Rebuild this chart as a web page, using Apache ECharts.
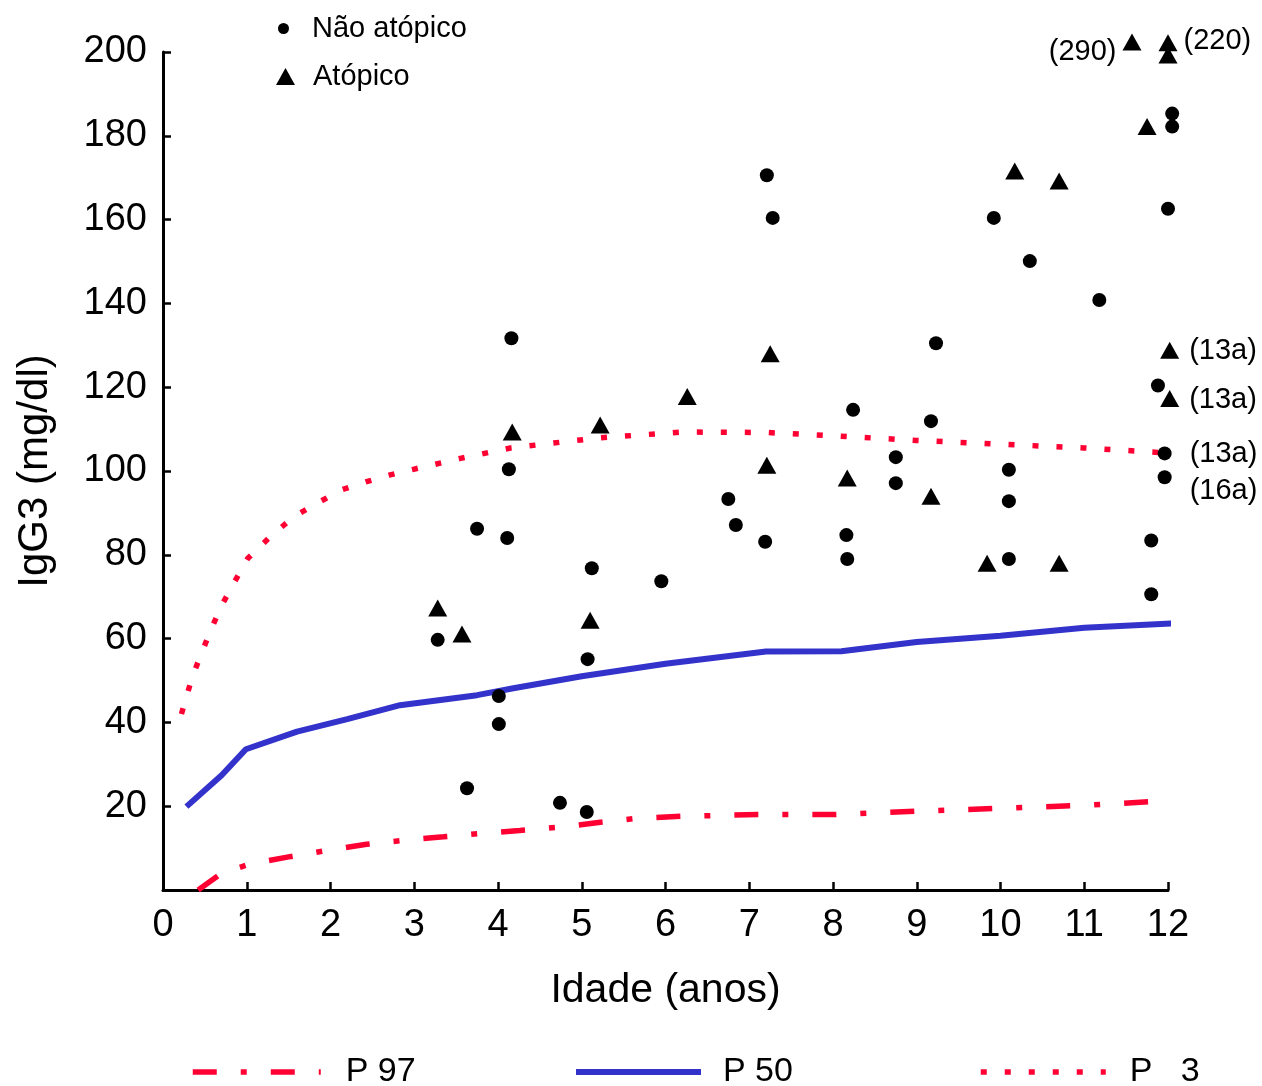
<!DOCTYPE html>
<html>
<head>
<meta charset="utf-8">
<script src="https://cdn.jsdelivr.net/npm/echarts@6/dist/echarts.min.js"></script>
<style>
  html, body { margin: 0; padding: 0; background: #fff; }
  #main { width: 1262px; height: 1086px; }
</style>
</head>
<body>
<div id="main"></div>
<script>
// pontos: [idade, IgG3]
var naoAtopico = [
    [3.28, 59.7], [3.63, 24.3], [3.75, 86.2], [4.01, 46.3], [4.01, 39.6],
    [4.11, 84.0], [4.13, 100.4], [4.16, 131.7], [4.74, 20.8], [5.06, 18.6],
    [5.07, 55.1], [5.12, 76.8], [5.95, 73.7], [6.75, 93.3], [6.84, 87.1],
    [7.19, 83.1], [7.21, 170.6], [7.28, 160.4], [8.16, 84.7], [8.17, 79.0],
    [8.24, 114.6], [8.75, 103.3], [8.75, 97.1], [9.17, 111.9], [9.23, 130.5],
    [9.92, 160.4], [10.10, 100.3], [10.10, 92.8], [10.10, 79.0], [10.35, 150.1],
    [11.18, 140.8], [11.80, 83.4], [11.80, 70.6], [11.88, 120.4], [11.96, 104.2],
    [11.96, 98.5], [12.0, 162.6], [12.05, 185.3], [12.05, 182.2]
];
var atopico = [
    [3.28, 67.3], [3.57, 61.1], [4.17, 109.3], [5.10, 64.4], [5.22, 111.0],
    [6.26, 117.8], [7.21, 101.4], [7.25, 128.0], [8.17, 98.3], [9.17, 94.0],
    [9.84, 78.0], [10.17, 171.6], [10.70, 169.2], [10.70, 78.0], [11.57, 202.4],
    [11.75, 182.2], [12.0, 202.2], [12.0, 199.3], [12.02, 128.8], [12.02, 117.3]
];
// percentis
var p97 = [
    [0.42, 0], [0.7, 4.0], [1.04, 6.2], [1.5, 7.9], [1.97, 9.5], [2.43, 10.9],
    [2.89, 11.9], [3.35, 12.7], [3.8, 13.5], [4.26, 14.2], [4.74, 15.0], [5.2, 16.1],
    [5.66, 17.1], [6.2, 17.6], [7.1, 18.0], [8.0, 18.0], [9.0, 18.8], [10.0, 19.5],
    [11.0, 20.2], [11.9, 21.2]
];
var p50 = [
    [0.28, 19.9], [0.7, 27.4], [0.99, 33.6], [1.6, 37.8], [2.2, 40.8], [2.83, 44.1],
    [3.75, 46.5], [4.2, 48.2], [5.0, 51.0], [6.0, 54.0], [7.2, 56.9], [8.1, 57.0],
    [9.0, 59.2], [10.0, 60.7], [11.0, 62.6], [12.06, 63.6]
];
var p3 = [
    [0.22, 42.0], [0.35, 50.9], [0.46, 56.5], [0.57, 62.0], [0.7, 67.9], [0.85, 73.4],
    [1.01, 79.1], [1.29, 84.5], [1.57, 89.2], [1.85, 92.4], [2.13, 95.5], [2.42, 97.4],
    [2.7, 99.0], [2.99, 100.4], [3.55, 103.0], [4.15, 105.5], [5.2, 107.9], [6.2, 109.3],
    [7.2, 109.2], [8.0, 108.4], [9.0, 107.3], [10.0, 106.4], [11.0, 105.5], [12.0, 104.3]
];
// anotações: [série, índice, texto]
var notas = [
    ['atopico', 14, '(290)'],
    ['atopico', 16, '(220)'],
    ['atopico', 18, '(13a)'],
    ['atopico', 19, '(13a)'],
    ['nao', 34, '(13a)'],
    ['nao', 35, '(16a)']
];
var nomesLegenda = ['P 97', 'P 50', 'P   3'];

var FONT = "'Liberation Sans', Arial, sans-serif";
var RED = '#ff0033', BLUE = '#3333cc';
var DASH_DOT = [24, 24, 6, 24], DOTS = [6, 18];

// estilo das etiquetas de anotação (posição em função do ponto)
var estiloNota = {
    '(290)': { position: 'left', distance: 6, offset: [0, 10] },
    '(220)': { position: 'right', distance: 6, offset: [0, -2] },
    '(13a)': { position: 'right', distance: 10, offset: [0, 1] },
    '(16a)': { position: 'right', distance: 18, offset: [0, 14] }
};

function comNotas(dados, chave) {
    return dados.map(function (p, i) {
        var n = notas.filter(function (a) { return a[0] === chave && a[1] === i; })[0];
        if (!n) return p;
        var s = estiloNota[n[2]];
        var dist = s.distance;
        if (chave === 'nao' && n[2] === '(13a)') dist = 18;
        return {
            value: p,
            label: {
                show: true, formatter: n[2], position: s.position, distance: dist,
                offset: s.offset, color: '#000', fontSize: 29, fontFamily: FONT
            }
        };
    });
}

// legenda de baixo: só a linha, sem símbolo
function legendaLinha(nome, left, largura, pad, cor, tipo, esp) {
    return {
        data: [nome], left: left, top: 1055, padding: 0,
        itemWidth: largura, itemHeight: 10,
        itemStyle: { color: 'rgba(0,0,0,0)', borderColor: 'rgba(0,0,0,0)', borderWidth: 0 },
        lineStyle: { color: cor, width: esp, type: tipo, cap: 'butt' },
        textStyle: { fontSize: 34, fontFamily: FONT, color: '#000', padding: [0, 0, 0, pad] }
    };
}

var myChart = echarts.init(document.getElementById('main'));
var option = {
    animation: false,
    backgroundColor: '#fff',
    grid: { left: 163, right: 94, top: 52, bottom: 196 },
    xAxis: {
        type: 'value', min: 0, max: 12, interval: 1,
        name: 'Idade (anos)', nameLocation: 'middle', nameGap: 80,
        nameTextStyle: { fontSize: 41, fontFamily: FONT, color: '#000' },
        axisLine: { lineStyle: { color: '#000', width: 3 } },
        axisTick: { inside: true, length: 8, lineStyle: { color: '#000', width: 2.5 } },
        axisLabel: { fontSize: 38, fontFamily: FONT, color: '#000', margin: 17 },
        splitLine: { show: false }
    },
    yAxis: {
        type: 'value', min: 0, max: 200, interval: 20,
        name: 'IgG3 (mg/dl)', nameLocation: 'middle', nameGap: 107,
        nameTextStyle: { fontSize: 42, fontFamily: FONT, color: '#000' },
        axisLine: { lineStyle: { color: '#000', width: 3 } },
        axisTick: { inside: true, length: 8, lineStyle: { color: '#000', width: 2.5 } },
        axisLabel: {
            fontSize: 38, fontFamily: FONT, color: '#000', margin: 16,
            formatter: function (v) { return v === 0 ? '' : v; }
        },
        splitLine: { show: false }
    },
    legend: [
        {
            data: [{ name: 'Não atópico', icon: 'circle' }],
            left: 278, top: 14, padding: 0, itemWidth: 11, itemHeight: 11,
            textStyle: { fontSize: 29, fontFamily: FONT, color: '#000', padding: [0, 0, 0, 18] }
        },
        {
            data: [{ name: 'Atópico', icon: 'triangle' }],
            left: 276, top: 62, padding: 0, itemWidth: 19, itemHeight: 17,
            textStyle: { fontSize: 29, fontFamily: FONT, color: '#000', padding: [0, 0, 0, 13] }
        },
        legendaLinha(nomesLegenda[0], 190, 128, 20, RED, DASH_DOT, 5.5),
        legendaLinha(nomesLegenda[1], 573, 125, 17, BLUE, 'solid', 6),
        legendaLinha(nomesLegenda[2], 978, 125, 19, RED, DOTS, 5.5)
    ],
    series: [
        {
            name: nomesLegenda[0], type: 'line', data: p97, symbol: 'none', z: 2,
            lineStyle: { color: RED, width: 5.5, type: DASH_DOT, cap: 'butt' },
            itemStyle: { color: RED }
        },
        {
            name: nomesLegenda[1], type: 'line', data: p50, symbol: 'none', z: 2,
            lineStyle: { color: BLUE, width: 6 },
            itemStyle: { color: BLUE }
        },
        {
            name: nomesLegenda[2], type: 'line', data: p3, symbol: 'none', z: 2,
            lineStyle: { color: RED, width: 5.5, type: DOTS, cap: 'butt' },
            itemStyle: { color: RED }
        },
        {
            name: 'Não atópico', type: 'scatter', data: comNotas(naoAtopico, 'nao'),
            symbol: 'circle', symbolSize: 14, clip: false, z: 5,
            itemStyle: { color: '#000', opacity: 1 }
        },
        {
            name: 'Atópico', type: 'scatter', data: comNotas(atopico, 'atopico'),
            symbol: 'triangle', symbolSize: [19, 17], clip: false, z: 5,
            itemStyle: { color: '#000', opacity: 1 }
        }
    ]
};
if (option && typeof option === "object") {
    myChart.setOption(option, true);
}
</script>
</body>
</html>
